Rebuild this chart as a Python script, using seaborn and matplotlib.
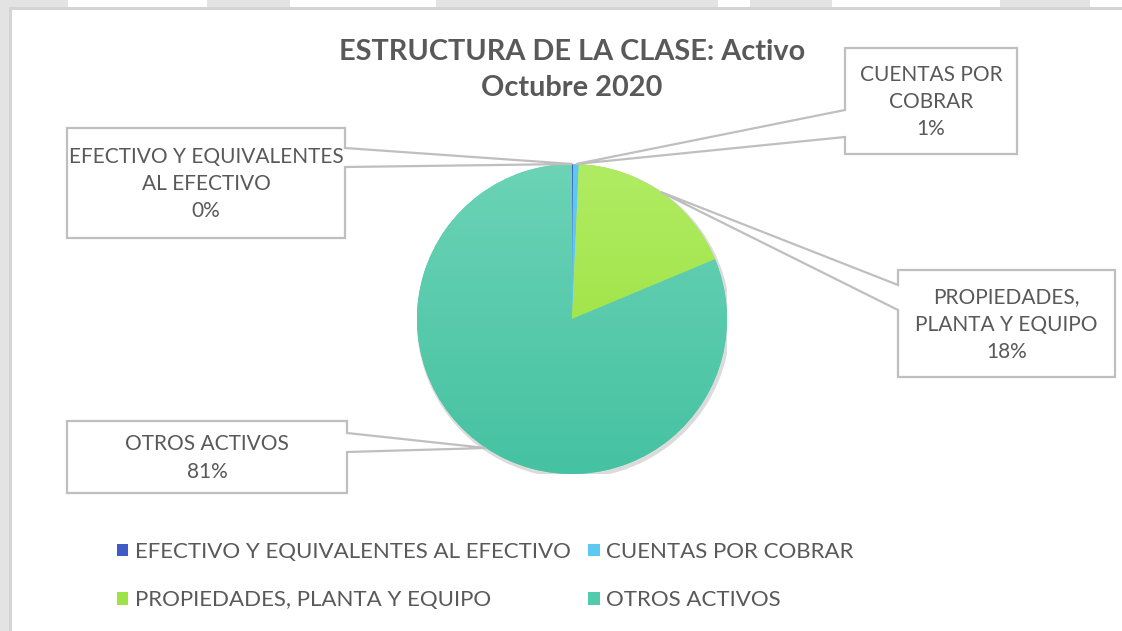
import numpy as np
import matplotlib
matplotlib.use("Agg")
import matplotlib.pyplot as plt
import seaborn as sns
from matplotlib.patches import Rectangle, Polygon, Circle
from matplotlib.colors import LinearSegmentedColormap

# ------------------------------------------------------------------------------
# 1) DATA
# ------------------------------------------------------------------------------
categories = ["EFECTIVO Y EQUIVALENTES AL EFECTIVO", "CUENTAS POR COBRAR",
              "PROPIEDADES, PLANTA Y EQUIPO", "OTROS ACTIVOS"]
box_labels = ["EFECTIVO Y EQUIVALENTES\nAL EFECTIVO", "CUENTAS POR\nCOBRAR",
              "PROPIEDADES,\nPLANTA Y EQUIPO", "OTROS ACTIVOS"]
values = [0.1, 0.6, 18.0, 81.3]
title = "ESTRUCTURA DE LA CLASE: Activo\nOctubre 2020"

# ------------------------------------------------------------------------------
# 2) STYLE
# ------------------------------------------------------------------------------
sns.set_theme(style="white")
plt.rcParams['font.family'] = ['Lato', 'DejaVu Sans']
colors = ["#3F5BC6", "#5CC9F2", "#9EE345", "#50CBAB"]
top_colors = ["#3F5BC6", "#5CC9F2", "#B0EC63", "#6CD3B6"]
bottom_colors = ["#3F5BC6", "#5CC9F2", "#96DE34", "#45C2A2"]
text_color = "#595959"
edge_gray = "#BFBFBF"

W, H = 1122, 631
fig = plt.figure(figsize=(W / 100, H / 100), dpi=100)

# page background / chart frame
bg = fig.add_axes([0, 0, 1, 1], zorder=0)
bg.set_xlim(0, W)
bg.set_ylim(H, 0)
bg.axis('off')
bg.add_patch(Rectangle((0, 0), W, H, color="#E3E3E3", lw=0))
for x0, x1 in [(68, 207), (290, 436), (718, 750), (832, 1000), (1090, W)]:
    bg.add_patch(Rectangle((x0, 0), x1 - x0, 10, color="white", lw=0))
bg.add_patch(Rectangle((9, 7), W, H, color="#D4D4D4", lw=0))
bg.add_patch(Rectangle((12, 10), W, H, color="white", lw=0))

# ------------------------------------------------------------------------------
# 3) PIE
# ------------------------------------------------------------------------------
cx, cy, R = 572, 319, 155
ax = fig.add_axes([(cx - R) / W, (H - cy - R) / H, 2 * R / W, 2 * R / H], zorder=1)
ax.add_patch(Circle((0.01, -0.015), 1.012, color="#9A9A9A", alpha=0.35, lw=0, zorder=0))
wedges, _ = ax.pie(values, colors=colors, startangle=90, counterclock=False,
                   radius=1, wedgeprops=dict(linewidth=0))

# vertical shading of each slice, clipped to the wedge
ramp = np.linspace(0, 1, 256).reshape(-1, 1)
for w, ct, cb in zip(wedges, top_colors, bottom_colors):
    cmap = LinearSegmentedColormap.from_list("shade", [cb, ct])
    im = ax.imshow(ramp, origin='lower', extent=(-1, 1, -1, 1), cmap=cmap,
                   aspect='auto', zorder=w.get_zorder() + 0.1)
    im.set_clip_path(w)

ax.set_xlim(-1, 1)
ax.set_ylim(-1, 1)
ax.axis('off')

# ------------------------------------------------------------------------------
# 4) TITLE, CALLOUTS, LEGEND
# ------------------------------------------------------------------------------
ov = fig.add_axes([0, 0, 1, 1], zorder=3)
ov.set_xlim(0, W)
ov.set_ylim(H, 0)
ov.axis('off')
ov.patch.set_alpha(0)

ov.text(572, 70, title, ha='center', va='center', fontsize=20.8,
        fontweight='bold', color=text_color, linespacing=1.45)

# box: x0, y0, x1, y1, side of the pointer, pointer base y0, y1
box_layout = [
    (67, 128, 345, 238, 'right', 148, 167),
    (845, 48, 1017, 154, 'left', 110, 137),
    (898, 270, 1115, 377, 'left', 285, 310),
    (67, 421, 347, 493, 'right', 433, 452),
]
total = sum(values)
for w, lab, v, (x0, y0, x1, y1, side, n0, n1) in zip(wedges, box_labels, values, box_layout):
    th = np.deg2rad((w.theta1 + w.theta2) / 2)
    tx, ty = cx + R * np.cos(th), cy - R * np.sin(th)
    ov.add_patch(Rectangle((x0, y0), x1 - x0, y1 - y0, color="white", lw=0))
    if side == 'right':
        pts = [(x0, y0), (x1, y0), (x1, n0), (tx, ty), (x1, n1), (x1, y1), (x0, y1)]
    else:
        pts = [(x0, y0), (x1, y0), (x1, y1), (x0, y1), (x0, n1), (tx, ty), (x0, n0)]
    ov.add_patch(Polygon(pts, closed=True, fill=False, edgecolor=edge_gray, lw=1.6))
    ov.text((x0 + x1) / 2, (y0 + y1) / 2 + 1, f"{lab}\n{v / total * 100:.0f}%",
            ha='center', va='center', fontsize=15, color=text_color, linespacing=1.45)

order = [0, 2, 1, 3]
fig.legend([wedges[i] for i in order], [categories[i] for i in order],
           loc='upper left', bbox_to_anchor=(117 / W, 1 - 542 / H), ncol=2,
           frameon=False, fontsize=16, labelcolor=text_color,
           handlelength=0.5, handleheight=0.5, handletextpad=0.3,
           columnspacing=0.8, labelspacing=1.27, borderpad=0, borderaxespad=0)

fig.savefig("out.png", dpi=100)
